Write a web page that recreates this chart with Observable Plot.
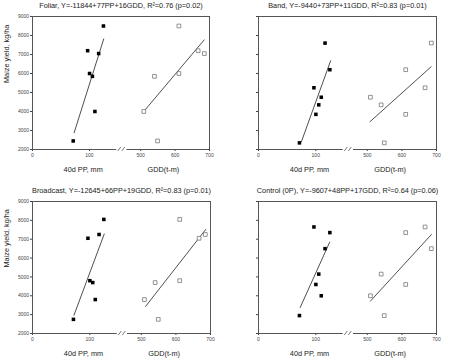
<!DOCTYPE html>
<html><head><meta charset="utf-8">
<script src="https://cdn.jsdelivr.net/npm/d3@7"></script>
<script src="https://cdn.jsdelivr.net/npm/@observablehq/plot@0.6"></script>
<style>
body{margin:0;background:#fff;}
#chart{position:relative;width:450px;height:360px;font-family:"Liberation Sans",Arial,sans-serif;}
#chart > svg{position:absolute;}
</style></head><body><div id="chart"></div>
<script>
// seven growing seasons: 40-day pre-planting precipitation (mm) and GDD
const pp  = [71.5, 96.8, 100.2, 105.2, 109.6, 116.2, 124.6];
const gdd = [549, 667, 611, 540, 509, 685, 611];

const titles = [
  "Foliar, Y=-11844+77PP+16GDD, R\u00B2=0.76 (p=0.02)",
  "Band, Y=-9440+73PP+11GDD, R\u00B2=0.83 (p=0.01)",
  "Broadcast, Y=-12645+66PP+19GDD, R\u00B2=0.83 (p=0.01)",
  "Control (0P), Y=-9607+48PP+17GDD, R\u00B2=0.64 (p=0.06)"
];
const yieldFoliar    = [2450, 7200, 6000, 5850, 4000, 7050, 8500];
const yieldBand      = [2350, 5250, 3850, 4350, 4750, 7600, 6200];
const yieldBroadcast = [2750, 7050, 4800, 4700, 3800, 7250, 8050];
const yieldControl   = [2950, 7650, 4600, 5150, 4000, 6500, 7350];

// fitted lines (end points)
const ppFitX  = [[73.1, 125.1], [75.1, 126.0], [72.4, 125.3], [72.8, 124.3]];
const ppFitY  = [[2882, 7820], [2423, 6674], [2967, 7276], [3379, 6844]];
const gddFitX = [[511.7, 684.5], [507.8, 684.5], [512.6, 686.4], [508.8, 685.3]];
const gddFitY = [[4063, 7767], [3464, 6356], [3442, 7522], [3715, 7250]];

const yTicks = [2000, 3000, 4000, 5000, 6000, 7000, 8000, 9000];
const xTicks = [0, 100, 500, 600, 700];
const xDomain = [0, 152, 453, 700];
const xLabelPP = "40d PP, mm", xLabelGDD = "GDD(t-m)", yLabel = "Maize yield, kg/ha";

const yields = [yieldFoliar, yieldBand, yieldBroadcast, yieldControl];
const layout = [
  {left: 0,   top: 0,   mL: 32, mR: 16, mT: 16, mB: 31},
  {left: 225, top: 0,   mL: 33, mR: 14, mT: 16, mB: 31},
  {left: 0,   top: 180, mL: 32, mR: 15, mT: 21, mB: 27},
  {left: 225, top: 180, mL: 33, mR: 14, mT: 21, mB: 27}
];
const ink = "#555";

function breakMarks(index, scales, values, dimensions) {
  const x0 = (scales.x(xDomain[1]) + scales.x(xDomain[2])) / 2;
  const yb = dimensions.height - dimensions.marginBottom;
  const g = d3.create("svg:g").attr("stroke", ink).attr("stroke-width", 0.8);
  for (const d of [-2, 2]) {
    g.append("line").attr("x1", x0 + d - 1.5).attr("y1", yb + 2).attr("x2", x0 + d + 1.5).attr("y2", yb - 2);
  }
  return g.node();
}

const chart = document.getElementById("chart");
yields.forEach((yv, i) => {
  const L = layout[i];
  const W = 225, H = 180, iw = W - L.mL - L.mR;
  const pts = pp.map((p, k) => ({pp: p, gdd: gdd[k], y: yv[k]}));
  const ppLine = [0, 1].map(k => ({x: ppFitX[i][k], y: ppFitY[i][k]}));
  const gddLine = [0, 1].map(k => ({x: gddFitX[i][k], y: gddFitY[i][k]}));
  const leftCol = i % 2 === 0;
  const svg = Plot.plot({
    width: W, height: H,
    marginLeft: L.mL, marginRight: L.mR, marginTop: L.mT, marginBottom: L.mB,
    style: {fontFamily: "Liberation Sans, Arial, sans-serif", fontSize: "5px", color: "#444", background: "white"},
    x: {type: "linear", domain: xDomain,
        range: [L.mL, L.mL + iw * 0.489, L.mL + iw * 0.52, L.mL + iw],
        ticks: xTicks, tickSize: 2, tickPadding: 1.5, tickFormat: d => String(d), label: null},
    y: {domain: [2000, 9000], ticks: yTicks, tickSize: 2, tickPadding: 1.5,
        tickFormat: leftCol ? (d => String(d)) : (() => ""), label: null},
    marks: [
      Plot.ruleY([9000], {stroke: ink, strokeWidth: 1}),
      Plot.ruleX([xDomain[0], xDomain[3]], {stroke: ink, strokeWidth: 1}),
      Plot.ruleY([{a: 0, b: 148}, {a: 460, b: 700}], {y: () => 2000, x1: "a", x2: "b", stroke: ink, strokeWidth: 1}),
      breakMarks,
      Plot.line(ppLine, {x: "x", y: "y", stroke: "#222", strokeWidth: 0.8}),
      Plot.line(gddLine, {x: "x", y: "y", stroke: "#222", strokeWidth: 0.8}),
      Plot.dot(pts, {x: "pp", y: "y", symbol: "square", r: 2, fill: "#000", stroke: "none"}),
      Plot.dot(pts, {x: "gdd", y: "y", symbol: "square", r: 2.1, fill: "white", stroke: "#666", strokeWidth: 0.7}),
      Plot.text([titles[i]], {frameAnchor: "top", dy: -10.8, lineAnchor: "middle", fontSize: 7.3, fill: "#222"}),
      Plot.text([xLabelPP], {x: () => 89, frameAnchor: "bottom", dy: 20.3, lineAnchor: "middle", fontSize: 7.3, fill: "#222"}),
      Plot.text([xLabelGDD], {x: () => 566, frameAnchor: "bottom", dy: 20.3, lineAnchor: "middle", fontSize: 7.3, fill: "#222"}),
      leftCol ? Plot.text([yLabel], {frameAnchor: "left", dx: -26, rotate: -90, lineAnchor: "middle", fontSize: 7.3, fill: "#222"}) : null
    ]
  });
  svg.style.left = L.left + "px";
  svg.style.top = L.top + "px";
  chart.appendChild(svg);
});
</script></body></html>
